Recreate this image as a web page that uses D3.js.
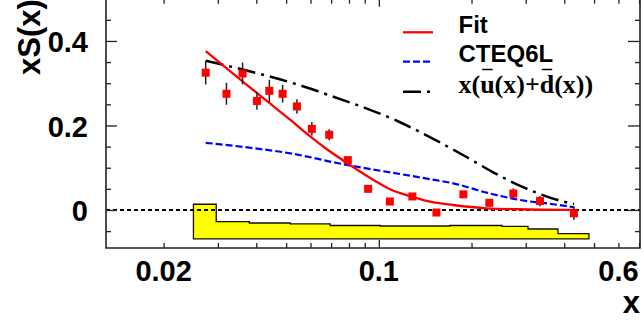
<!DOCTYPE html>
<html>
<head>
<meta charset="utf-8">
<script src="https://cdn.jsdelivr.net/npm/d3@7"></script>
<style>
html,body{margin:0;padding:0;background:#fff;}
svg{display:block;}
</style>
</head>
<body>
<svg id="chart" width="644" height="320"></svg>
<script>
// ---- data ----
const dataX   = [0.0274,0.0320,0.0361,0.0402,0.0441,0.0487,0.0542,0.0606,0.0690,0.0793,0.0923,0.1086,0.1285,0.1538,0.1882,0.2285,0.2734,0.3338,0.4302];
const dataY   = [0.325,0.275,0.323,0.258,0.282,0.275,0.245,0.192,0.178,0.118,0.050,0.020,0.032,-0.006,0.037,0.017,0.039,0.021,-0.008];
const dataErr = [0.028,0.026,0.026,0.021,0.026,0.021,0.017,0.016,0.013,0.007,0.005,0.005,0.006,0.006,0.008,0.009,0.012,0.012,0.016];

const fitX = [0.0274,0.0360,0.0445,0.0516,0.0600,0.0661,0.0793,0.0961,0.1088,0.1285,0.1467,0.1743,0.2238,0.2870,0.4302];
const fitY = [0.376,0.305,0.251,0.213,0.1735,0.1496,0.110,0.071,0.049,0.031,0.0196,0.0118,0.004,0.0017,0.0];

const cteqX = [0.0274,0.0384,0.0516,0.0745,0.1467,0.1746,0.2238,0.2870,0.3684,0.4302];
const cteqY = [0.159,0.147,0.134,0.110,0.073,0.063,0.041,0.0237,0.0135,0.0064];

const seaX = [0.0274,0.0332,0.0431,0.0555,0.0712,0.0914,0.1172,0.1486,0.1882,0.2367,0.3006,0.3876,0.4302];
const seaY = [0.353,0.339,0.318,0.295,0.268,0.240,0.2076,0.170,0.1295,0.088,0.051,0.022,0.014];

const bandEdges = [0.0250,0.02965,0.03794,0.05154,0.0695,0.1010,0.1703,0.2513,0.3051,0.3817,0.4813];
const bandTop   = [0.0135,-0.0277,-0.0308,-0.0331,-0.0367,-0.0379,-0.0367,-0.0390,-0.0450,-0.0561];
const bandBase  = -0.0686;

const xTicksMinor = [0.02,0.03,0.04,0.05,0.06,0.07,0.08,0.09,0.2,0.3,0.4,0.5,0.6,0.7];
const xTicksMajor = [0.1];
const xTickLabels = [0.02,0.1,0.6];
const yTicksMajor = [0,0.2,0.4];
const yTicksMinor = [-0.05,0.05,0.1,0.15,0.25,0.3,0.35,0.45];
const yTickLabels = ["0","0.2","0.4"];

const legendLabels = ["Fit","CTEQ6L"];

// ---- layout ----
const L = 106, R = 640, B = 248, T = -1.3;
const svg = d3.select("#chart");
const x = d3.scaleLog().domain([0.013,0.705]).range([L,R]);
const y = d3.scaleLinear().domain([-0.09,0.5]).range([B,T]);

// band
const bandPts = [[bandEdges[0], bandBase]];
bandTop.forEach((t,i)=>{ bandPts.push([bandEdges[i],t]); bandPts.push([bandEdges[i+1],t]); });
bandPts.push([bandEdges[bandEdges.length-1], bandBase]);
svg.append("path")
  .attr("d", d3.line().x(d=>x(d[0])).y(d=>y(d[1]))(bandPts)+"Z")
  .attr("fill","#ffff00").attr("stroke","#111").attr("stroke-width",1.3);

// zero line
svg.append("line").attr("x1",L).attr("x2",R).attr("y1",y(0)).attr("y2",y(0))
  .attr("stroke","#000").attr("stroke-width",2).attr("stroke-dasharray","4,3");

const lineGen = d3.line().x(d=>x(d[0])).y(d=>y(d[1])).curve(d3.curveMonotoneX);

// sea quark curve
svg.append("path").datum(seaX.map((v,i)=>[v,seaY[i]])).attr("d",lineGen)
  .attr("fill","none").attr("stroke","#000").attr("stroke-width",2.5).attr("stroke-dasharray","18,6,3,6");
// CTEQ6L
svg.append("path").datum(cteqX.map((v,i)=>[v,cteqY[i]])).attr("d",lineGen)
  .attr("fill","none").attr("stroke","#0000ff").attr("stroke-width",2.2).attr("stroke-dasharray","7,3");
// Fit
svg.append("path").datum(fitX.map((v,i)=>[v,fitY[i]])).attr("d",lineGen)
  .attr("fill","none").attr("stroke","#ff0000").attr("stroke-width",2.3);

// error bars + markers
const pts = dataX.map((v,i)=>({x:v,y:dataY[i],e:dataErr[i]}));
svg.append("g").selectAll("line").data(pts).join("line")
  .attr("x1",d=>x(d.x)).attr("x2",d=>x(d.x))
  .attr("y1",d=>y(d.y+d.e)).attr("y2",d=>y(d.y-d.e))
  .attr("stroke","#222").attr("stroke-width",1.5);
svg.append("g").selectAll("rect").data(pts).join("rect")
  .attr("x",d=>x(d.x)-4).attr("y",d=>y(d.y)-4).attr("width",8).attr("height",8)
  .attr("fill","#ff0000");

// axes (ticks)
function styleAxis(g){ g.select(".domain").remove(); g.selectAll("line").attr("stroke","#222").attr("stroke-width",1.3); g.selectAll("text").remove(); }
svg.append("g").attr("transform",`translate(0,${B})`).call(d3.axisBottom(x).tickValues(xTicksMinor).tickSize(-5).tickFormat("")).call(styleAxis);
svg.append("g").attr("transform",`translate(0,${B})`).call(d3.axisBottom(x).tickValues(xTicksMajor).tickSize(-8).tickFormat("")).call(styleAxis);
svg.append("g").attr("transform",`translate(0,${T})`).call(d3.axisTop(x).tickValues(xTicksMinor).tickSize(-5).tickFormat("")).call(styleAxis);
svg.append("g").attr("transform",`translate(0,${T})`).call(d3.axisTop(x).tickValues(xTicksMajor).tickSize(-8).tickFormat("")).call(styleAxis);
svg.append("g").attr("transform",`translate(${L},0)`).call(d3.axisLeft(y).tickValues(yTicksMinor).tickSize(-5).tickFormat("")).call(styleAxis);
svg.append("g").attr("transform",`translate(${L},0)`).call(d3.axisLeft(y).tickValues(yTicksMajor).tickSize(-11).tickFormat("")).call(styleAxis);
svg.append("g").attr("transform",`translate(${R},0)`).call(d3.axisRight(y).tickValues(yTicksMinor).tickSize(-5).tickFormat("")).call(styleAxis);
svg.append("g").attr("transform",`translate(${R},0)`).call(d3.axisRight(y).tickValues(yTicksMajor).tickSize(-12).tickFormat("")).call(styleAxis);

// frame
svg.append("path").attr("d",`M${L},${T}V${B}H${R}V${T}`).attr("fill","none").attr("stroke","#222").attr("stroke-width",1.6);

const sans = "'Liberation Sans', Arial, Helvetica, sans-serif";
// tick labels
svg.append("g").selectAll("text").data(xTickLabels).join("text")
  .attr("x",d=>x(d)).attr("y",280.5).attr("text-anchor","middle")
  .attr("font-family",sans).attr("font-weight","bold").attr("font-size",29)
  .text(d=>String(d));
svg.append("g").selectAll("text").data(yTicksMajor).join("text")
  .attr("x",88).attr("y",d=>y(d)+11.5).attr("text-anchor","end")
  .attr("font-family",sans).attr("font-weight","bold").attr("font-size",29)
  .text((d,i)=>yTickLabels[i]);

// axis titles
svg.append("text").attr("x",640).attr("y",313).attr("text-anchor","end")
  .attr("font-family",sans).attr("font-weight","bold").attr("font-size",31).text("x");
svg.append("text").attr("transform","translate(40,75) rotate(-90)")
  .attr("font-family",sans).attr("font-weight","bold").attr("font-size",31).text("xS(x)");

// legend
const lg = svg.append("g");
lg.append("line").attr("x1",403).attr("x2",433).attr("y1",32.3).attr("y2",32.3).attr("stroke","#ff0000").attr("stroke-width",2.3);
lg.append("line").attr("x1",403).attr("x2",431).attr("y1",61.7).attr("y2",61.7).attr("stroke","#0000ff").attr("stroke-width",2.2).attr("stroke-dasharray","7,3");
lg.append("line").attr("x1",403).attr("x2",431).attr("y1",91.7).attr("y2",91.7).attr("stroke","#000").attr("stroke-width",2.5).attr("stroke-dasharray","18,6,3,6");
lg.append("text").attr("x",458.5).attr("y",33.3).attr("font-family",sans).attr("font-weight","bold").attr("font-size",24).text(legendLabels[0]);
lg.append("text").attr("x",458.5).attr("y",62.3).attr("font-family",sans).attr("font-weight","bold").attr("font-size",24).text(legendLabels[1]);
const t3 = lg.append("text").attr("x",458.5).attr("y",92.7)
  .attr("font-family","'Liberation Serif', 'Times New Roman', serif").attr("font-weight","bold").attr("font-size",26)
  .text("x(u(x)+d(x))");
[2,7].forEach(i=>{
  const r = t3.node().getExtentOfChar(i);
  lg.append("line").attr("x1",r.x+2).attr("x2",r.x+r.width-2).attr("y1",69.5).attr("y2",69.5)
    .attr("stroke","#000").attr("stroke-width",1.5);
});
</script>
</body>
</html>
